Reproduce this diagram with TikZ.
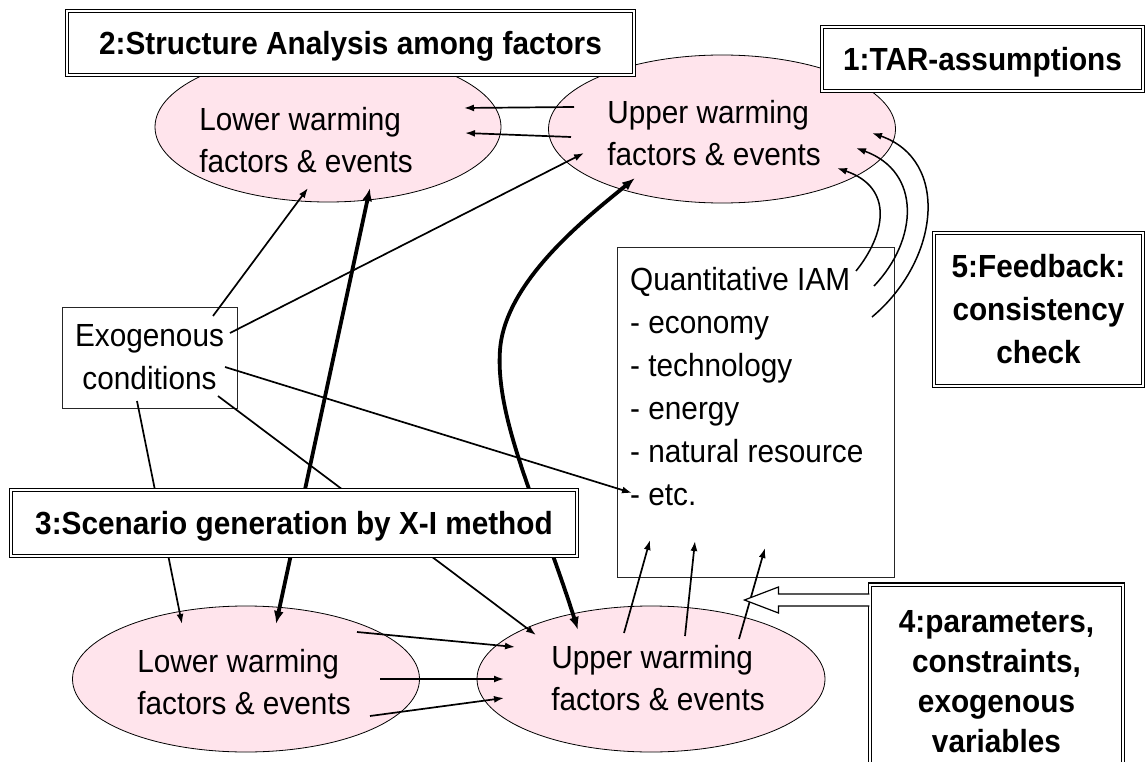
\documentclass[tikz,border=0pt]{standalone}
\usepackage{fontspec}
\setmainfont{Liberation Sans}[FakeStretch=0.93]
\usetikzlibrary{arrows.meta,shapes.geometric,calc}
\definecolor{pinkfill}{RGB}{255,228,236}
\begin{document}
\begin{tikzpicture}[x=1pt,y=-1pt,
  ell/.style={ellipse, draw, line width=0.8pt, fill=pinkfill, inner sep=0pt},
  etxt/.style={font=\fontsize{32}{42}\selectfont, align=left, inner sep=0pt},
  dbox/.style={draw, double, double distance=2pt, line width=1.1pt, fill=white,
    font=\bfseries\fontsize{32}{43}\selectfont, align=center, inner sep=0pt},
  pbox/.style={draw=black!85, line width=0.9pt, fill=white},
  arr/.style={line width=1.7pt, -{Latex[length=10pt,width=7pt]}},
  fb/.style={line width=1.5pt, -{Latex[length=10pt,width=7pt]}},
  tarr/.style={line width=3.8pt, {Latex[length=13pt,width=10pt]}-{Latex[length=13pt,width=10pt]}}
]
\useasboundingbox (0,0) rectangle (1146,762);
\clip (0,0) rectangle (1146,762);

% ellipses
\node[ell, minimum width=346pt, minimum height=150pt] (ltE) at (328,127) {};
\node[ell, minimum width=347pt, minimum height=148pt] (utE) at (722,129) {};
\node[ell, minimum width=347pt, minimum height=146pt] (lbE) at (246,679) {};
\node[ell, minimum width=348pt, minimum height=146pt] (ubE) at (651,679) {};
\node[etxt] (ltT) at (306,140) {Lower warming\\factors \& events};
\node[etxt] (utT) at (714,133) {Upper warming\\factors \& events};
\node[etxt] (lbT) at (244,682) {Lower warming\\factors \& events};
\node[etxt] (ubT) at (658,678) {Upper warming\\factors \& events};

% plain boxes
\node[pbox, minimum width=175pt, minimum height=101pt, inner sep=0pt,
  font=\fontsize{32}{43}\selectfont, align=center] (exo) at (149.5,357.5) {Exogenous\\conditions};
\node[pbox, minimum width=277pt, minimum height=330pt, inner sep=0pt] (iam) at (755.5,412) {};
\node[anchor=north west, inner sep=0pt, font=\fontsize{32}{43}\selectfont, align=left] (iamT) at (630,267)
  {Quantitative IAM\\- economy\\- technology\\- energy\\- natural resource\\- etc.};

% connectors
\draw[arr] ($(utE.center)+(-148,-22)$) -- ($(ltE.center)+(136,-19)$);
\draw[arr] ($(utE.center)+(-151,8)$) -- ($(ltE.center)+(137,6)$);
\draw[arr] ($(exo.center)+(63.5,-41.5)$) -- ($(ltE.center)+(-20,61)$);
\draw[arr] ($(exo.center)+(80.5,-24.5)$) -- ($(utE.center)+(-138,24)$);
\draw[arr] ($(exo.center)+(75.5,9.5)$) -- ($(iam.center)+(-123.5,81)$);
\draw[arr] ($(exo.center)+(-12.5,43.5)$) -- ($(lbE.center)+(-64,-55)$);
\draw[arr] ($(exo.center)+(68.5,38.5)$) -- ($(ubE.center)+(-115,-44)$);
\draw[tarr] ($(ltE.center)+(42,61)$) -- ($(lbE.center)+(30,-55)$);
\coordinate (t2m) at (500,350);
\draw[tarr] ($(utE.center)+(-87,49)$) .. controls (590,215) and (505,280) .. (t2m)
  .. controls (495,420) and (540,510) .. ($(ubE.center)+(-73,-49)$);

\draw[arr] ($(lbE.center)+(111,-47)$) -- ($(ubE.center)+(-136,-32)$);
\draw[arr] ($(lbE.center)+(134,0)$) -- ($(ubE.center)+(-147,0)$);
\draw[arr] ($(lbE.center)+(124,37)$) -- ($(ubE.center)+(-147,19)$);

\draw[arr] ($(ubE.center)+(-27,-46)$) -- ($(iam.center)+(-105.5,128)$);
\draw[arr] ($(ubE.center)+(34,-43)$) -- ($(iam.center)+(-60.5,129)$);
\draw[arr] ($(ubE.center)+(88,-40)$) -- ($(iam.center)+(9.5,136)$);

\draw[fb] ($(iam.center)+(100.5,-141)$) .. controls (885,235) and (895,188) .. ($(utE.center)+(115,39)$);
\draw[fb] ($(iam.center)+(118.5,-126)$) .. controls (918,240) and (922,172) .. ($(utE.center)+(134,19)$);
\draw[fb] ($(iam.center)+(116.5,-95)$) .. controls (940,260) and (950,160) .. ($(utE.center)+(150,4)$);

% titled boxes
\node[dbox, minimum width=566pt, minimum height=66pt, text height=22.9pt, text depth=0pt] (b3) at (294,523) {3:Scenario generation by X-I method};
\node[dbox, minimum width=567pt, minimum height=64pt, text height=22.9pt, text depth=0pt] (b2) at (350.5,43) {2:Structure Analysis among factors};
\node[dbox, minimum width=321pt, minimum height=64pt, text height=22.9pt, text depth=0pt] (b1) at (982.5,59) {1:TAR-assumptions};
\node[dbox, minimum width=209pt, minimum height=153pt] (b5) at (1038.5,309.5) {5:Feedback:\\consistency\\check};
\node[dbox, anchor=north, minimum width=253pt, inner ysep=26pt, font=\bfseries\fontsize{32}{40}\selectfont] (b4) at (996.5,584) {4:parameters,\\constraints,\\exogenous\\variables};

% hollow arrow from box 4
\coordinate (ha) at ($(b4.north west)+(0,16)$);
\draw[line width=1.2pt, fill=white] ($(ha)+(0,-6)$) -- ($(ha)+(-91,-6)$) -- ($(ha)+(-91,-13)$)
  -- ($(ha)+(-125,0)$) -- ($(ha)+(-91,13)$) -- ($(ha)+(-91,6)$) -- ($(ha)+(0,6)$);
\end{tikzpicture}
\end{document}
